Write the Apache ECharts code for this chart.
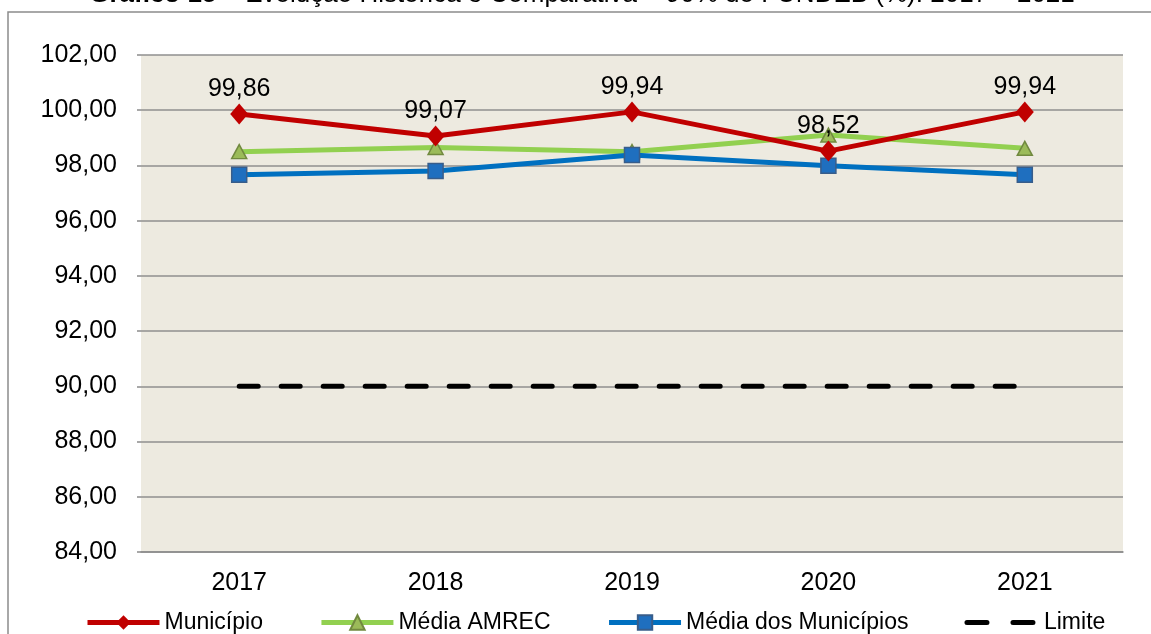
<!DOCTYPE html>
<html>
<head>
<meta charset="utf-8">
<script src="https://cdn.jsdelivr.net/npm/echarts@6/dist/echarts.min.js"></script>
<style>
html,body{margin:0;padding:0;background:#fff;}
#chart{width:1151px;height:634px;}
</style>
</head>
<body>
<div id="chart"></div>
<script>
const categories = ['2017', '2018', '2019', '2020', '2021'];
const municipio = [99.86, 99.07, 99.94, 98.52, 99.94];
const mediaAmrec = [98.50, 98.65, 98.50, 99.10, 98.62];
const mediaMunicipios = [97.66, 97.80, 98.38, 97.99, 97.66];
const limite = [90, 90, 90, 90, 90];
const yTicks = {min: 84, max: 102, interval: 2};
const titleBold = 'Gráfico 15';
const titleRest = ' – Evolução Histórica e Comparativa – 90% do FUNDEB (%): 2017 – 2021';

const fmt = v => v.toFixed(2).replace('.', ',');
const FONT = '"Liberation Sans", Arial, sans-serif';

const chart = echarts.init(document.getElementById('chart'));
chart.setOption({
  animation: false,
  backgroundColor: '#ffffff',
  textStyle: {fontFamily: FONT},
  graphic: [
    {type: 'rect', shape: {x: 8, y: 12, width: 1200, height: 700}, style: {fill: 'none', stroke: '#8c8c8c', lineWidth: 1.5}, silent: true},
    {type: 'text', x: 582, y: 8, style: {
      text: '{b|' + titleBold + '}' + titleRest,
      textAlign: 'center', textVerticalAlign: 'bottom', fill: '#000', font: '26px ' + FONT,
      rich: {b: {fontWeight: 'bold', fontSize: 26, fontFamily: FONT, fill: '#000'}}
    }}
  ],
  grid: {left: 141, right: 28, top: 55, bottom: 82, show: true, backgroundColor: '#EDEAE0', borderWidth: 0},
  legend: {
    left: 80, top: 606, itemWidth: 72, itemHeight: 18, itemGap: 56,
    textStyle: {fontSize: 23, color: '#000', fontFamily: FONT},
    data: [
      {name: 'Município', lineStyle: {width: 5}},
      {name: 'Média AMREC', lineStyle: {width: 5}},
      {name: 'Média dos Municípios', lineStyle: {width: 5}},
      {name: 'Limite', lineStyle: {width: 5, type: [20, 26], cap: 'round'}, itemStyle: {opacity: 0}}
    ]
  },
  xAxis: {
    type: 'category', data: categories, boundaryGap: true,
    axisLine: {show: true, lineStyle: {color: '#8c8c8c', width: 1.5}},
    axisTick: {show: false},
    axisLabel: {fontSize: 25, color: '#000', margin: 19, fontFamily: FONT}
  },
  yAxis: {
    type: 'value', min: yTicks.min, max: yTicks.max, interval: yTicks.interval,
    axisLine: {show: false},
    axisTick: {show: true, length: 4, lineStyle: {color: '#8c8c8c', width: 1.5}},
    axisLabel: {fontSize: 25, color: '#000', margin: 24, formatter: v => fmt(v), fontFamily: FONT},
    splitLine: {show: true, lineStyle: {color: '#8f8f8f', width: 1.5}}
  },
  series: [
    {
      name: 'Município', type: 'line', data: municipio, z: 4,
      symbol: 'diamond', symbolSize: [18, 21],
      lineStyle: {color: '#C00000', width: 5},
      itemStyle: {color: '#C00000', borderColor: '#C00000', borderWidth: 0},
      label: {show: true, position: 'top', distance: 2, fontSize: 25, color: '#000', fontFamily: FONT, formatter: p => fmt(p.value)}
    },
    {
      name: 'Média AMREC', type: 'line', data: mediaAmrec, z: 3,
      symbol: 'triangle', symbolSize: [15, 14],
      lineStyle: {color: '#92D050', width: 5},
      itemStyle: {color: '#9BBB59', borderColor: '#71893F', borderWidth: 1.5}
    },
    {
      name: 'Média dos Municípios', type: 'line', data: mediaMunicipios, z: 3,
      symbol: 'rect', symbolSize: 15,
      lineStyle: {color: '#0070C0', width: 5},
      itemStyle: {color: '#1F6FBF', borderColor: '#385D8A', borderWidth: 1.5}
    },
    {
      name: 'Limite', type: 'line', data: limite, z: 2,
      symbol: 'none',
      lineStyle: {color: '#000', width: 5, type: [19, 23], cap: 'round'},
      itemStyle: {color: '#000'}
    }
  ]
});
</script>
</body>
</html>
